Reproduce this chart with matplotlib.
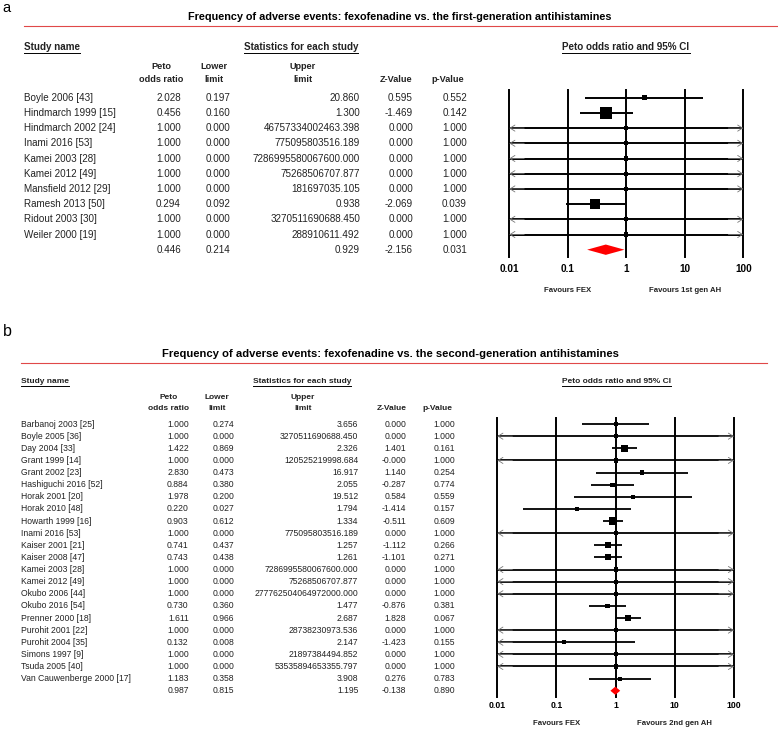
import matplotlib
matplotlib.use('Agg')
import matplotlib.pyplot as plt
import matplotlib.transforms as mtransforms
from matplotlib.lines import Line2D
import numpy as np

plt.rcParams['font.family'] = ['Liberation Sans', 'DejaVu Sans']

W, H = 778, 730

# ---- panel a: fexofenadine vs first-generation antihistamines
a_title = 'Frequency of adverse events: fexofenadine vs. the first-generation antihistamines'
a_studies = ['Boyle 2006 [43]', 'Hindmarch 1999 [15]', 'Hindmarch 2002 [24]', 'Inami 2016 [53]',
             'Kamei 2003 [28]', 'Kamei 2012 [49]', 'Mansfield 2012 [29]', 'Ramesh 2013 [50]',
             'Ridout 2003 [30]', 'Weiler 2000 [19]']
a_or = [2.028, 0.456, 1.000, 1.000, 1.000, 1.000, 1.000, 0.294, 1.000, 1.000]
a_lower = [0.197, 0.160, 0.000, 0.000, 0.000, 0.000, 0.000, 0.092, 0.000, 0.000]
a_upper = [20.860, 1.300, 46757334002463.398, 775095803516.189, 7286995580067600.000,
           75268506707.877, 181697035.105, 0.938, 3270511690688.450, 288910611.492]
a_z = [0.595, -1.469, 0.000, 0.000, 0.000, 0.000, 0.000, -2.069, 0.000, 0.000]
a_p = [0.552, 0.142, 1.000, 1.000, 1.000, 1.000, 1.000, 0.039, 1.000, 1.000]
a_summary = [0.446, 0.214, 0.929, -2.156, 0.031]
a_favours = ['Favours FEX', 'Favours 1st gen AH']

# ---- panel b: fexofenadine vs second-generation antihistamines
b_title = 'Frequency of adverse events: fexofenadine vs. the second-generation antihistamines'
b_studies = ['Barbanoj 2003 [25]', 'Boyle 2005 [36]', 'Day 2004 [33]', 'Grant 1999 [14]',
             'Grant 2002 [23]', 'Hashiguchi 2016 [52]', 'Horak 2001 [20]', 'Horak 2010 [48]',
             'Howarth 1999 [16]', 'Inami 2016 [53]', 'Kaiser 2001 [21]', 'Kaiser 2008 [47]',
             'Kamei 2003 [28]', 'Kamei 2012 [49]', 'Okubo 2006 [44]', 'Okubo 2016 [54]',
             'Prenner 2000 [18]', 'Purohit 2001 [22]', 'Purohit 2004 [35]', 'Simons 1997 [9]',
             'Tsuda 2005 [40]', 'Van Cauwenberge 2000 [17]']
b_or = [1.000, 1.000, 1.422, 1.000, 2.830, 0.884, 1.978, 0.220, 0.903, 1.000, 0.741,
        0.743, 1.000, 1.000, 1.000, 0.730, 1.611, 1.000, 0.132, 1.000, 1.000, 1.183]
b_lower = [0.274, 0.000, 0.869, 0.000, 0.473, 0.380, 0.200, 0.027, 0.612, 0.000, 0.437,
           0.438, 0.000, 0.000, 0.000, 0.360, 0.966, 0.000, 0.008, 0.000, 0.000, 0.358]
b_upper = [3.656, 3270511690688.450, 2.326, 120525219998.684, 16.917, 2.055, 19.512, 1.794,
           1.334, 775095803516.189, 1.257, 1.261, 7286995580067600.000, 75268506707.877,
           277762504064972000.000, 1.477, 2.687, 28738230973.536, 2.147, 21897384494.852,
           53535894653355.797, 3.908]
b_z = [0.000, 0.000, 1.401, -0.000, 1.140, -0.287, 0.584, -1.414, -0.511, 0.000, -1.112,
       -1.101, 0.000, 0.000, 0.000, -0.876, 1.828, 0.000, -1.423, 0.000, 0.000, 0.276]
b_p = [1.000, 1.000, 0.161, 1.000, 0.254, 0.774, 0.559, 0.157, 0.609, 1.000, 0.266,
       0.271, 1.000, 1.000, 1.000, 0.381, 0.067, 1.000, 0.155, 1.000, 1.000, 0.783]
b_summary = [0.987, 0.815, 1.195, -0.138, 0.890]
b_favours = ['Favours FEX', 'Favours 2nd gen AH']

ticks = [0.01, 0.1, 1, 10, 100]
tick_labels = ['0.01', '0.1', '1', '10', '100']
col_heads = [('Peto', 'odds ratio'), ('Lower', 'limit'), ('Upper', 'limit'),
             (None, 'Z-Value'), (None, 'p-Value')]

# layout (pixels in the 778x730 picture)
LAYOUT_A = dict(label='a', label_xy=(2, 8), label_size=10.5,
                title_xy=(400, 17), title_size=7.8, rule=(24, 777, 26),
                sec_y=47, stats_x=301, ci_x=626, sec_size=7.1,
                name_x=24, col_right=[181, 230.7, 360, 413, 467],
                head_x=[161, 214, 302.5, 395.7, 447.5], head_y=(66.7, 79), head_size=6.6,
                body_size=7.1, ax_px=(509.3, 743.3, 90.1, 257.3),
                tick_size=7.2, tick_pad=4.8, fav_y=290.7, fav_size=5.6,
                box_max=11.7, box_min=4.3, lw=1.4)
LAYOUT_B = dict(label='b', label_xy=(3, 332), label_size=11.5,
                title_xy=(390, 354.3), title_size=8.1, rule=(20.7, 766.7, 363.3),
                sec_y=381.5, stats_x=302, ci_x=616.7, sec_size=6.0,
                name_x=21, col_right=[188.7, 234.3, 358.3, 406, 455],
                head_x=[169, 216.7, 303, 391.3, 437.5], head_y=(397.3, 408.3), head_size=6.0,
                body_size=6.2, ax_px=(497.3, 734, 418, 696.8),
                tick_size=6.3, tick_pad=2.7, fav_y=723.3, fav_size=5.6,
                box_max=8.3, box_min=4.2, lw=1.3)

TEXT = '#222222'


def fx(px):
    return px / W


def fy(py):
    return 1 - py / H


def underline(fig, txt, renderer, gap=2.0):
    bb = txt.get_window_extent(renderer)
    y = bb.y0 - gap + 1.5
    fig.add_artist(Line2D([bb.x0 / W, bb.x1 / W], [y / H, y / H],
                          transform=fig.transFigure, color='black', lw=0.7))


def forest(ax, est, lower, upper, summary, lay):
    est = np.array(est)
    lower = np.array(lower)
    upper = np.array(upper)
    n = len(est)
    xmin, xmax = ticks[0], ticks[-1]
    for t in ticks:
        ax.axvline(t, color='black', lw=1.4, zorder=1, clip_on=False)
    for i in range(n):
        lo = max(lower[i], xmin)
        hi = min(upper[i], xmax)
        ax.plot([lo, hi], [i, i], color='black', lw=lay['lw'],
                solid_capstyle='butt', zorder=3, clip_on=False)
        if lower[i] < xmin:
            ax.annotate('', xy=(xmin, i), xytext=(xmin * 1.8, i),
                        arrowprops=dict(arrowstyle='->,head_length=0.35,head_width=0.22',
                                        lw=0.6, color='#777777', shrinkA=0, shrinkB=0),
                        annotation_clip=False, zorder=4)
        if upper[i] > xmax:
            ax.annotate('', xy=(xmax, i), xytext=(xmax / 1.8, i),
                        arrowprops=dict(arrowstyle='->,head_length=0.35,head_width=0.22',
                                        lw=0.6, color='#777777', shrinkA=0, shrinkB=0),
                        annotation_clip=False, zorder=4)
    # box size from inverse-variance weight of each study
    ok = lower > 0
    se = np.where(ok, (np.log(np.where(ok, upper, 1)) - np.log(np.where(ok, lower, 1))) / 3.92, np.inf)
    w = 1 / se ** 2
    size_px = np.maximum(lay['box_max'] * np.sqrt(w / w.max()), lay['box_min'])
    ax.scatter(est, np.arange(n), marker='s', s=(size_px * 0.72) ** 2,
               color='black', linewidths=0, zorder=5)
    s_est, s_lo, s_hi = summary[0], summary[1], summary[2]
    hh = 0.34
    ax.fill([s_lo, s_est, s_hi, s_est], [n, n - hh, n, n + hh], color='#ff0000',
            lw=0, zorder=5)
    ax.set_xscale('log')
    ax.set_xlim(xmin, xmax)
    ax.set_ylim(n + 0.5, -0.5)
    ax.set_xticks(ticks, tick_labels)
    ax.minorticks_off()
    ax.set_yticks([])
    ax.tick_params(axis='x', length=0, pad=lay['tick_pad'], labelsize=lay['tick_size'])
    for lab in ax.get_xticklabels():
        lab.set_fontweight('bold')
    for sp in ax.spines.values():
        sp.set_visible(False)
    ax.patch.set_visible(False)


def draw_panel(fig, lay, title, studies, est, lower, upper, z, p, summary, favours):
    renderer = fig.canvas.get_renderer()
    lx, ly = lay['label_xy']
    fig.text(fx(lx), fy(ly), lay['label'], fontsize=lay['label_size'], ha='left', va='center')
    tx, ty = lay['title_xy']
    fig.text(fx(tx), fy(ty), title, fontsize=lay['title_size'], fontweight='bold',
             ha='center', va='center')
    r0, r1, ry = lay['rule']
    fig.add_artist(Line2D([fx(r0), fx(r1)], [fy(ry), fy(ry)], transform=fig.transFigure,
                          color='#e04848', lw=0.8))

    sec = dict(fontsize=lay['sec_size'], fontweight='bold', va='center', color=TEXT)
    t1 = fig.text(fx(lay['name_x']), fy(lay['sec_y']), 'Study name', ha='left', **sec)
    t2 = fig.text(fx(lay['stats_x']), fy(lay['sec_y']), 'Statistics for each study', ha='center', **sec)
    t3 = fig.text(fx(lay['ci_x']), fy(lay['sec_y']), 'Peto odds ratio and 95% CI', ha='center', **sec)
    for t in (t1, t2, t3):
        underline(fig, t, renderer)

    hd = dict(fontsize=lay['head_size'], fontweight='bold', ha='center', va='center', color=TEXT)
    for (top, bottom), hx in zip(col_heads, lay['head_x']):
        if top:
            fig.text(fx(hx), fy(lay['head_y'][0]), top, **hd)
        fig.text(fx(hx), fy(lay['head_y'][1]), bottom, **hd)

    x0, x1, y0, y1 = lay['ax_px']
    ax = fig.add_axes([fx(x0), fy(y1), (x1 - x0) / W, (y1 - y0) / H])
    forest(ax, est, lower, upper, summary, lay)

    trans = mtransforms.blended_transform_factory(fig.transFigure, ax.transData)
    body = dict(fontsize=lay['body_size'], va='center', color=TEXT, transform=trans)
    n = len(studies)
    for i in range(n):
        ax.text(fx(lay['name_x']), i, studies[i], ha='left', **body)
        for v, xr in zip([est[i], lower[i], upper[i], z[i], p[i]], lay['col_right']):
            ax.text(fx(xr), i, f'{v:.3f}', ha='right', **body)
    for v, xr in zip(summary, lay['col_right']):
        ax.text(fx(xr), n, f'{v:.3f}', ha='right', **body)

    ftrans = mtransforms.blended_transform_factory(ax.transData, fig.transFigure)
    for label, xv in zip(favours, [0.1, 10]):
        ax.text(xv, fy(lay['fav_y']), label, transform=ftrans, fontsize=lay['fav_size'],
                fontweight='bold', ha='center', va='center', color=TEXT)


fig = plt.figure(figsize=(W / 100, H / 100), dpi=100)
draw_panel(fig, LAYOUT_A, a_title, a_studies, a_or, a_lower, a_upper, a_z, a_p, a_summary, a_favours)
draw_panel(fig, LAYOUT_B, b_title, b_studies, b_or, b_lower, b_upper, b_z, b_p, b_summary, b_favours)
fig.savefig('out.png', dpi=100)
